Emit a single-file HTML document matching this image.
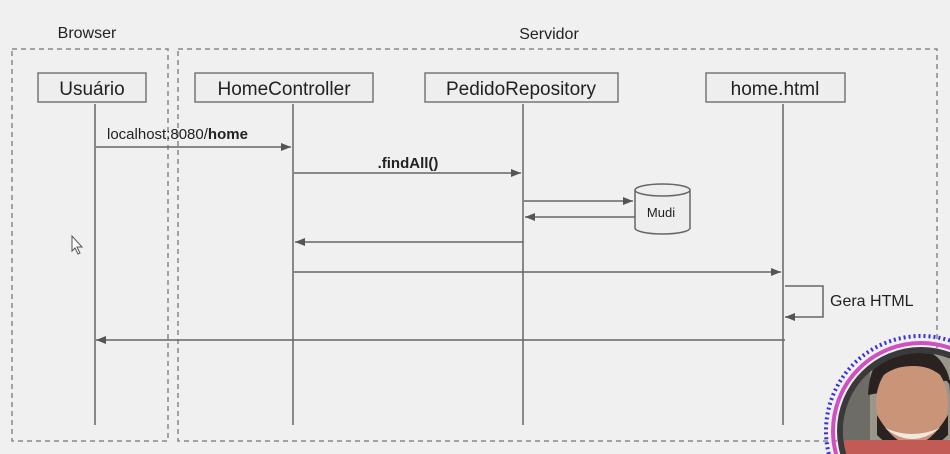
<!DOCTYPE html>
<html><head><meta charset="utf-8"><style>
html,body{margin:0;padding:0;background:#f0f0f0;width:950px;height:454px;overflow:hidden;}
svg{display:block;}
text{font-family:"Liberation Sans",Arial,sans-serif;fill:#222;}
</style></head><body>
<svg width="950" height="454" viewBox="0 0 950 454" xmlns="http://www.w3.org/2000/svg">
<defs>
<marker id="a" markerWidth="10" markerHeight="8" refX="10" refY="4" orient="auto" markerUnits="userSpaceOnUse">
<path d="M0,0 L10,4 L0,8 z" fill="#555"/></marker>
<clipPath id="c"><circle cx="921" cy="431" r="78"/></clipPath>
</defs>
<rect width="950" height="454" fill="#f0f0f0"/>
<text x="87" y="38" font-size="16" text-anchor="middle">Browser</text>
<text x="549" y="39" font-size="16" text-anchor="middle">Servidor</text>
<g fill="none" stroke="#888" stroke-width="1.5" stroke-dasharray="5,4">
<rect x="12" y="49" width="156" height="392"/>
<rect x="178" y="49" width="759" height="392"/>
</g>
<g fill="#eeeeee" stroke="#777" stroke-width="1.5">
<rect x="38" y="73" width="108" height="29"/>
<rect x="195" y="73" width="178" height="29"/>
<rect x="425" y="73" width="193" height="29"/>
<rect x="706" y="73" width="139" height="29"/>
</g>
<g font-size="19" text-anchor="middle">
<text x="92" y="95">Usuário</text>
<text x="284" y="95">HomeController</text>
<text x="521" y="95">PedidoRepository</text>
<text x="775" y="95">home.html</text>
</g>
<g stroke="#666" stroke-width="1.5">
<line x1="95" y1="104" x2="95" y2="425"/>
<line x1="293" y1="104" x2="293" y2="425"/>
<line x1="523" y1="104" x2="523" y2="425"/>
<line x1="783" y1="104" x2="783" y2="425"/>
</g>
<g stroke="#666" stroke-width="1.5" fill="none" marker-end="url(#a)">
<line x1="96" y1="147" x2="291" y2="147"/>
<line x1="294" y1="173" x2="521" y2="173"/>
<line x1="524" y1="201" x2="633" y2="201"/>
<line x1="635" y1="217" x2="525" y2="217"/>
<line x1="523" y1="242" x2="295" y2="242"/>
<line x1="294" y1="272" x2="781" y2="272"/>
<polyline points="785,286 823,286 823,317 785,317"/>
<line x1="785" y1="340" x2="96" y2="340"/>
</g>
<text x="107" y="139" font-size="15">localhost:8080/<tspan font-weight="bold">home</tspan></text>
<text x="408" y="168" font-size="15" font-weight="bold" text-anchor="middle">.findAll()</text>
<text x="830" y="306" font-size="16">Gera HTML</text>
<g stroke="#666" stroke-width="1.5" fill="#eeeeee">
<path d="M635,190 L635,228 A27.5,6 0 0 0 690,228 L690,190"/>
<ellipse cx="662.5" cy="190" rx="27.5" ry="6"/>
</g>
<text x="661" y="217" font-size="13" text-anchor="middle">Mudi</text>
<path d="M72,236 L72,251 L75,248 L78,254 L80,253 L77,247 L82,247 z" fill="#fff" stroke="#555" stroke-width="1"/>
<circle cx="921" cy="431" r="95" fill="none" stroke="#3a2fd8" stroke-width="4" stroke-dasharray="2,3"/>
<circle cx="921" cy="431" r="88" fill="none" stroke="#d050c0" stroke-width="4"/>
<circle cx="921" cy="431" r="84" fill="#3a3a3a"/>
<g clip-path="url(#c)">
<rect x="840" y="350" width="160" height="160" fill="#9a968c"/>
<rect x="840" y="350" width="30" height="110" fill="#6e6c66"/>
<path d="M868,395 Q870,345 912,348 Q950,350 950,395 L950,380 Z" fill="#2a2220"/>
<ellipse cx="912" cy="403" rx="36" ry="45" fill="#c99478"/>
<path d="M874,385 Q876,350 912,352 Q948,354 950,385 Q935,365 912,366 Q888,366 874,385 z" fill="#2a2220"/>
<path d="M877,415 Q912,475 948,415 L948,435 Q912,470 877,435 z" fill="#2a2220"/>
<path d="M885,428 Q912,440 940,428 Q912,450 885,428 z" fill="#f2e8e0"/>
<rect x="840" y="440" width="160" height="30" fill="#c25a55"/>
</g>
</svg>
</body></html>
